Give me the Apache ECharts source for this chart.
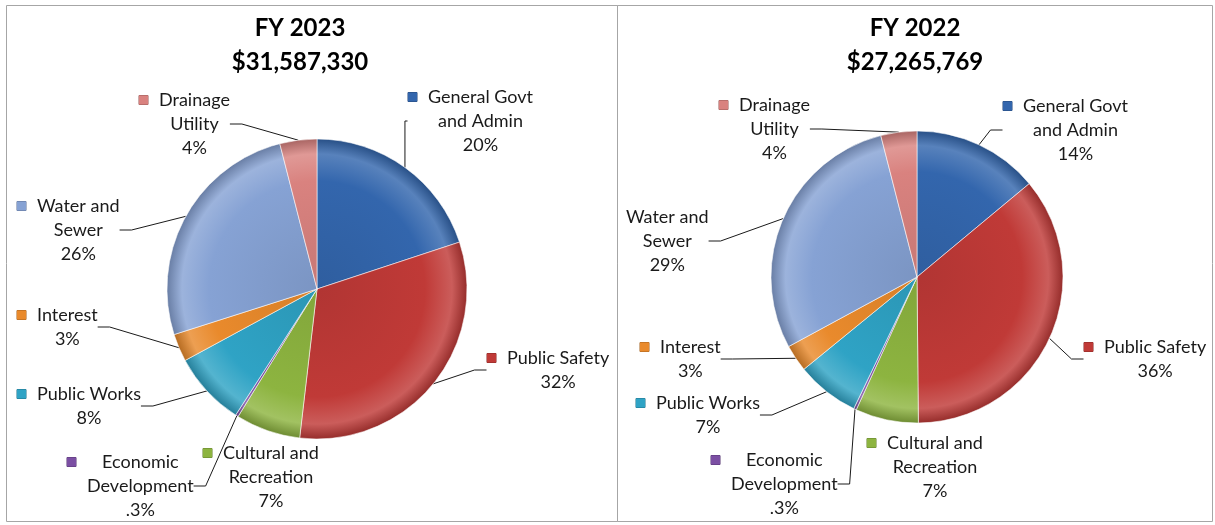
<!DOCTYPE html>
<html>
<head>
<meta charset="utf-8">
<script src="https://cdn.jsdelivr.net/npm/echarts@6/dist/echarts.min.js"></script>
<style>
html, body { margin: 0; padding: 0; background: #fff; }
#main { width: 1215px; height: 525px; }
</style>
</head>
<body>
<div id="main"></div>
<script>
// slices go clockwise from 12 o'clock
var categories = ['General Govt\nand Admin', 'Public Safety', 'Cultural and\nRecreation', 'Economic\nDevelopment', 'Public Works', 'Interest', 'Water and\nSewer', 'Drainage\nUtility'];
var fy2023Values = [20, 32, 7, 0.3, 8, 3, 26, 4];
var fy2022Values = [14, 36, 7, 0.3, 7, 3, 29, 4];
var titles2023 = ['FY 2023', '$31,587,330'];
var titles2022 = ['FY 2022', '$27,265,769'];
var sliceColors = ['#3366ad', '#c03a37', '#8db440', '#7b4fa3', '#2fa3c5', '#e98a2c', '#86a2d4', '#d9827f'];

// label block top-left corners (layout only)
var pos2023 = [[408, 85], [487, 346], [203, 441], [67, 450], [17, 382], [17, 303], [17, 194], [139, 88]];
var pos2022 = [[1003, 94], [1084, 335], [867, 431], [711, 448], [636, 391], [640, 335], [626, 205], [719, 93]];
var noLeaderLine = [2]; // cultural label sits right next to its slice

var chart = echarts.init(document.getElementById('main'));
var fontName = 'Lato';

function mix(c, target, t) {
	var a = parseInt(c.slice(1), 16), b = parseInt(target.slice(1), 16);
	var r = Math.round(((a >> 16) & 255) * (1 - t) + ((b >> 16) & 255) * t);
	var g = Math.round(((a >> 8) & 255) * (1 - t) + ((b >> 8) & 255) * t);
	var bl = Math.round((a & 255) * (1 - t) + (b & 255) * t);
	return 'rgb(' + r + ',' + g + ',' + bl + ')';
}

function shade(col, cx, cy, r) {
	return new echarts.graphic.RadialGradient(cx, cy, r, [
		{ offset: 0, color: mix(col, '#000000', 0.08) },
		{ offset: 0.72, color: col },
		{ offset: 0.9, color: mix(col, '#ffffff', 0.18) },
		{ offset: 1, color: mix(col, '#000000', 0.22) }
	], true);
}

function pctText(v) {
	return (v < 1 ? String(v).replace(/^0/, '') : String(v)) + '%';
}

var rich = {
	t: { fontFamily: fontName, fontSize: 18, lineHeight: 24, color: '#1a1a1a', align: 'center' },
	g: { width: 11, lineHeight: 24, align: 'left' },
	s: { width: 20, lineHeight: 24, align: 'left' }
};
sliceColors.forEach(function (c, i) {
	rich['m' + i] = { width: 9, height: 9, lineHeight: 24, align: 'left', backgroundColor: c, borderColor: mix(c, '#000000', 0.3), borderWidth: 0.5 };
});

function makeFormatter(values, noMarker) {
	return function (p) {
		var lines = p.name.split('\n');
		lines.push(pctText(values[p.dataIndex]));
		var hasMarker = noMarker.indexOf(p.dataIndex) < 0;
		return lines.map(function (l, i) {
			var lead = '';
			if (hasMarker) lead = i === 0 ? '{m' + p.dataIndex + '|}{g|}' : '{s|}';
			return lead + '{t|' + l + '}';
		}).join('\n');
	};
}

function pieSeries(values, center, radius, pos, noMarker) {
	return {
		type: 'pie',
		center: center,
		radius: radius,
		startAngle: 90,
		clockwise: true,
		avoidLabelOverlap: false,
		silent: true,
		animation: false,
		data: categories.map(function (c, i) {
			return {
				name: c,
				value: values[i],
				itemStyle: { color: shade(sliceColors[i], center[0], center[1], radius) },
				labelLine: { show: noLeaderLine.indexOf(i) < 0 }
			};
		}),
		itemStyle: { borderColor: 'rgba(255,255,255,0.55)', borderWidth: 1 },
		label: { show: true, position: 'outside', formatter: makeFormatter(values, noMarker), rich: rich },
		labelLine: { show: true, length: 12, length2: 12, lineStyle: { color: '#1a1a1a', width: 1 } },
		labelLayout: function (p) {
			var q = pos[p.dataIndex];
			return { x: q[0], y: q[1], align: 'left', verticalAlign: 'top' };
		}
	};
}

var titleStyle = { fontFamily: fontName, fontSize: 24, fontWeight: 'bold', fill: '#000', align: 'center', verticalAlign: 'middle' };

chart.setOption({
	backgroundColor: '#ffffff',
	graphic: [
		{ type: 'rect', shape: { x: 6.5, y: 5.5, width: 611, height: 516 }, style: { fill: 'none', stroke: '#a6a6a6', lineWidth: 1 } },
		{ type: 'rect', shape: { x: 617.5, y: 5.5, width: 595, height: 516 }, style: { fill: 'none', stroke: '#a6a6a6', lineWidth: 1 } },
		{ type: 'text', x: 300, y: 28, style: Object.assign({ text: titles2023[0] }, titleStyle) },
		{ type: 'text', x: 300, y: 62, style: Object.assign({ text: titles2023[1] }, titleStyle) },
		{ type: 'text', x: 915, y: 28, style: Object.assign({ text: titles2022[0] }, titleStyle) },
		{ type: 'text', x: 915, y: 62, style: Object.assign({ text: titles2022[1] }, titleStyle) }
	],
	series: [
		pieSeries(fy2023Values, [317, 289], 150, pos2023, []),
		pieSeries(fy2022Values, [917, 277], 146, pos2022, [6])
	]
});
</script>
</body>
</html>
